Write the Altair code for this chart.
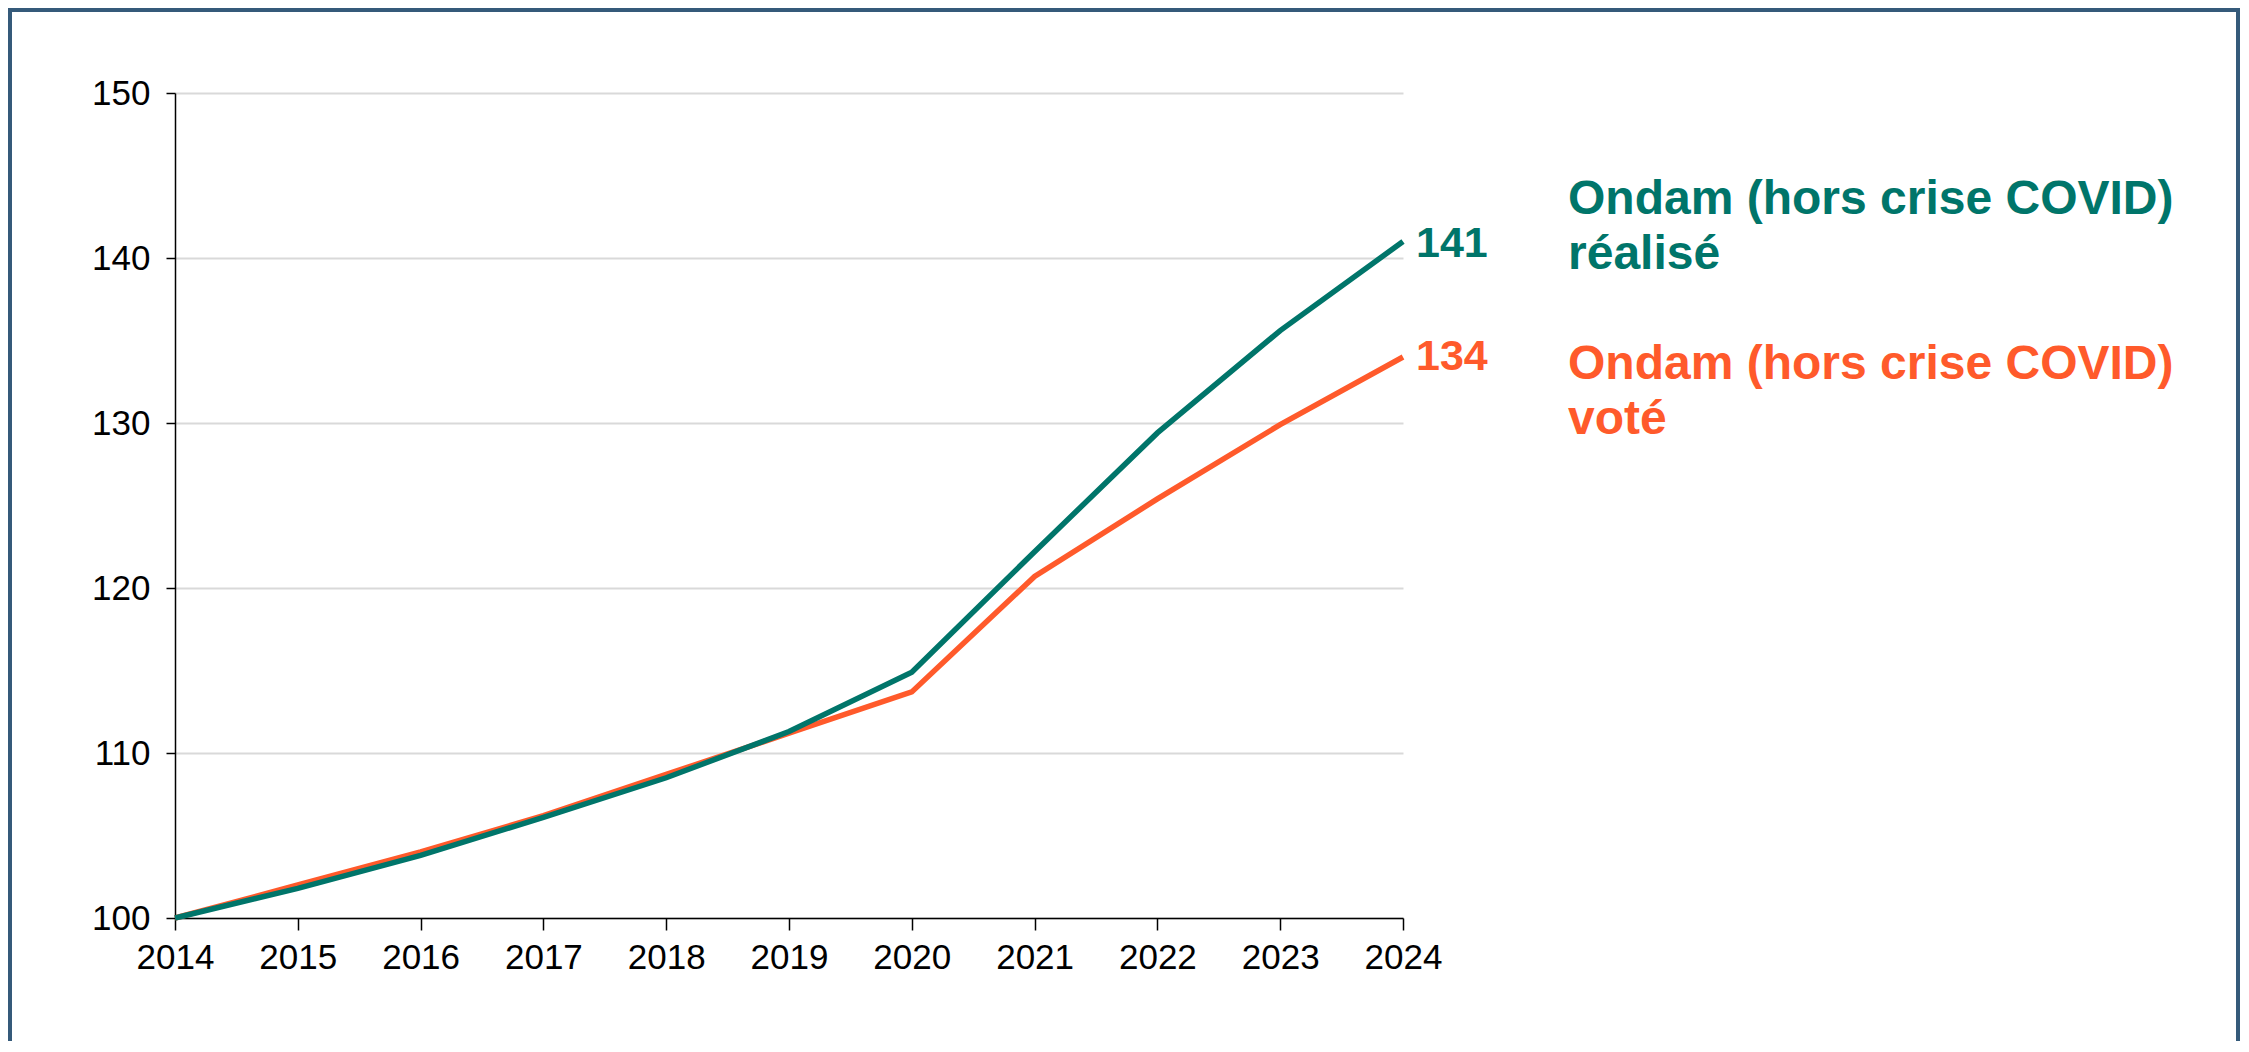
import altair as alt
import pandas as pd

# ---- data ----
years = [2014, 2015, 2016, 2017, 2018, 2019, 2020, 2021, 2022, 2023, 2024]
ondam_realise = [100, 101.8, 103.8, 106.1, 108.5, 111.3, 114.9, 122.2, 129.4, 135.6, 141.0]
ondam_vote = [100, 102.0, 104.0, 106.2, 108.7, 111.2, 113.7, 120.7, 125.4, 129.9, 134.0]
y_ticks = [100, 110, 120, 130, 140, 150]
legend_realise = "Ondam (hors crise COVID)\nréalisé"
legend_vote = "Ondam (hors crise COVID)\nvoté"
end_label_realise = "141"
end_label_vote = "134"

TEAL = "#00756A"
ORANGE = "#FF5A2B"
FONT = "Liberation Sans"

df_r = pd.DataFrame({"annee": years, "valeur": ondam_realise})
df_v = pd.DataFrame({"annee": years, "valeur": ondam_vote})
last_r = pd.DataFrame({"annee": [years[-1]], "valeur": [ondam_realise[-1]],
                       "lbl": [end_label_realise], "leg": [legend_realise]})
last_v = pd.DataFrame({"annee": [years[-1]], "valeur": [ondam_vote[-1]],
                       "lbl": [end_label_vote], "leg": [legend_vote]})

x_enc = alt.X(
    "annee:Q",
    scale=alt.Scale(domain=[years[0], years[-1]], nice=False, zero=False),
    axis=alt.Axis(values=years, format="d", title=None, grid=False,
                  labelFlush=False, labelOverlap=False, tickSize=12,
                  labelPadding=10),
)
y_enc = alt.Y(
    "valeur:Q",
    scale=alt.Scale(domain=[y_ticks[0], y_ticks[-1]], nice=False, zero=False),
    axis=alt.Axis(values=y_ticks, title=None, grid=True, labelFlush=False,
                  tickSize=9, labelPadding=16),
)

line_v = alt.Chart(df_v).mark_line(color=ORANGE, strokeWidth=5.5).encode(x=x_enc, y=y_enc)
line_r = alt.Chart(df_r).mark_line(color=TEAL, strokeWidth=5.5).encode(x="annee:Q", y="valeur:Q")

num_r = alt.Chart(last_r).mark_text(
    align="left", baseline="middle", dx=13, dy=2, fontSize=43,
    fontWeight="bold", font=FONT, color=TEAL
).encode(x="annee:Q", y="valeur:Q", text="lbl:N")
num_v = alt.Chart(last_v).mark_text(
    align="left", baseline="middle", dx=13, dy=0, fontSize=43,
    fontWeight="bold", font=FONT, color=ORANGE
).encode(x="annee:Q", y="valeur:Q", text="lbl:N")

leg_r = alt.Chart(last_r).mark_text(
    align="left", baseline="alphabetic", dx=165, dy=-28, fontSize=48,
    lineHeight=55, lineBreak="\n", fontWeight="bold", font=FONT, color=TEAL
).encode(x="annee:Q", y="valeur:Q", text="leg:N")
leg_v = alt.Chart(last_v).mark_text(
    align="left", baseline="alphabetic", dx=165, dy=22, fontSize=48,
    lineHeight=55, lineBreak="\n", fontWeight="bold", font=FONT, color=ORANGE
).encode(x="annee:Q", y="valeur:Q", text="leg:N")

# decorative slide frame
frame = alt.Chart(pd.DataFrame({"k": [0]})).mark_rect(
    fillOpacity=0, stroke="#355A7A", strokeWidth=4
).encode(x=alt.value(-165), x2=alt.value(2063), y=alt.value(-83), y2=alt.value(1000))

chart = alt.layer(frame, line_v, line_r, num_r, num_v, leg_r, leg_v).properties(
    width=1228,
    height=825,
    autosize=alt.AutoSizeParams(type="none"),
    padding={"left": 167, "top": 85, "right": 838, "bottom": 123},
    background="white",
).configure_view(stroke=None).configure_axis(
    labelFont=FONT,
    labelFontSize=35,
    labelColor="black",
    domainColor="black",
    domainWidth=1.5,
    tickColor="black",
    tickWidth=1.5,
    gridColor="#D9D9D9",
    gridWidth=2,
)

chart.save("out.html", embed_options={"renderer": "svg", "actions": False})
